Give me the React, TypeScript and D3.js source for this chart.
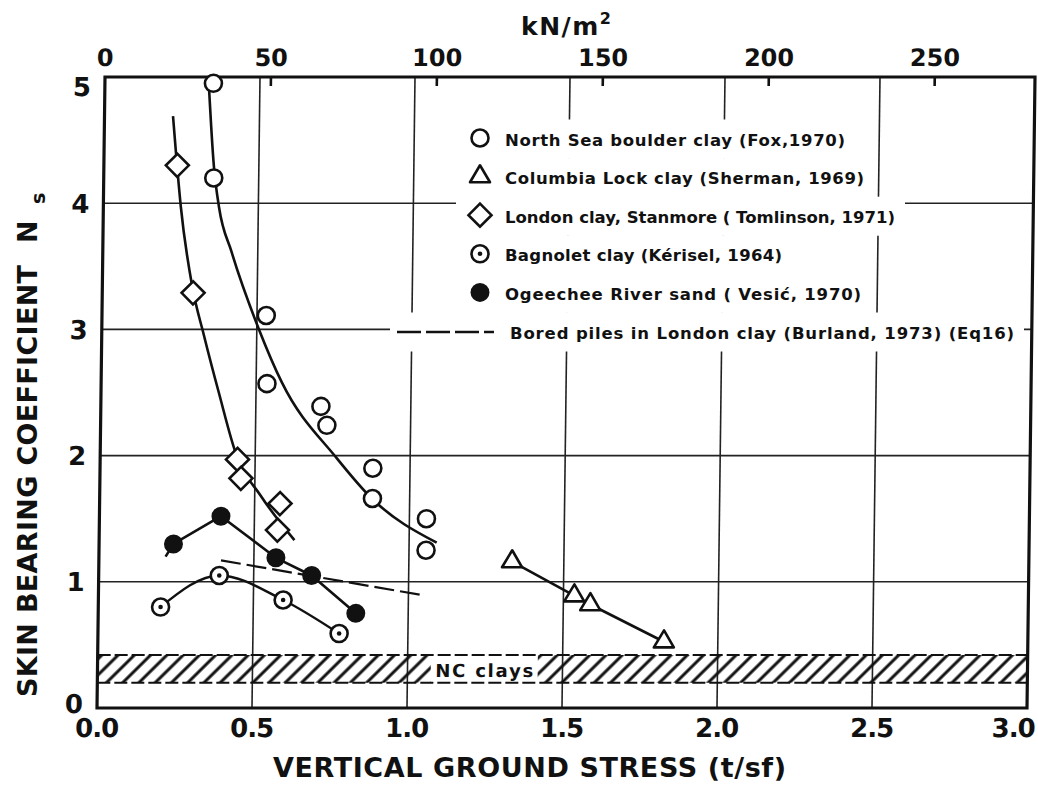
import React from 'react';
import * as d3 from 'd3';

type Pt = [number, number];

// vertical ground stress (t/sf) vs skin bearing coefficient Ns
const northSea: Pt[] = [
  [0.35, 4.95], [0.355, 4.2], [0.53, 3.11], [0.535, 2.57], [0.71, 2.39],
  [0.73, 2.24], [0.88, 1.9], [0.88, 1.66], [1.055, 1.5], [1.055, 1.25],
];
const northSeaCurve: Pt[] = [
  [0.335, 4.95], [0.355, 4.29], [0.373, 3.97], [0.416, 3.61], [0.507, 3.0],
  [0.583, 2.58], [0.763, 1.98], [0.878, 1.66], [1.089, 1.31],
];
const columbia: Pt[] = [[1.333, 1.16], [1.535, 0.89], [1.587, 0.82], [1.826, 0.525]];
const london: Pt[] = [
  [0.237, 4.3], [0.293, 3.29], [0.443, 1.97], [0.455, 1.82], [0.582, 1.62], [0.575, 1.41],
];
const londonCurve: Pt[] = [
  [0.221, 4.69], [0.232, 4.4], [0.25, 3.97], [0.29, 3.34], [0.33, 2.95],
  [0.38, 2.5], [0.44, 2.0], [0.52, 1.68], [0.63, 1.33],
];
const bagnolet: Pt[] = [[0.201, 0.8], [0.389, 1.05], [0.596, 0.856], [0.778, 0.59]];
const ogeechee: Pt[] = [[0.24, 1.3], [0.392, 1.52], [0.571, 1.19], [0.687, 1.05], [0.831, 0.75]];
const ogeecheeLine: Pt[] = [[0.215, 1.2], [0.24, 1.3], [0.392, 1.52], [0.571, 1.19], [0.687, 1.05], [0.831, 0.75]];
const boredPiles: Pt[] = [[0.394, 1.17], [1.044, 0.895]];
const ncBand = [0.2, 0.42];

const xTicks = [0, 0.5, 1.0, 1.5, 2.0, 2.5, 3.0];
const yTicks = [0, 1, 2, 3, 4, 5];
const knTicks = [0, 50, 100, 150, 200, 250];
const KN_PER_TSF = 93.4;

const legendRows = [
  { kind: 'circle', label: 'North Sea boulder clay (Fox,1970)', len: 340 },
  { kind: 'triangle', label: 'Columbia Lock clay (Sherman, 1969)', len: 359 },
  { kind: 'diamond', label: 'London clay, Stanmore ( Tomlinson, 1971)', len: 390 },
  { kind: 'dotted', label: 'Bagnolet clay (Kérisel, 1964)', len: 277 },
  { kind: 'filled', label: 'Ogeechee River sand ( Vesić, 1970)', len: 356 },
  { kind: 'dash', label: 'Bored piles in London clay (Burland, 1973) (Eq16)', len: 504 },
];

const INK = '#111';
const FONT = '"DejaVu Sans", sans-serif';

const Marker = ({ kind, cx, cy }: { kind: string; cx: number; cy: number }) => {
  const sw = 2.6;
  if (kind === 'circle') return <circle cx={cx} cy={cy} r={8.5} fill="#fff" stroke={INK} strokeWidth={sw} />;
  if (kind === 'filled') return <circle cx={cx} cy={cy} r={9.5} fill={INK} />;
  if (kind === 'dotted')
    return (
      <g>
        <circle cx={cx} cy={cy} r={8.5} fill="#fff" stroke={INK} strokeWidth={sw} />
        <circle cx={cx} cy={cy} r={2.3} fill={INK} />
      </g>
    );
  if (kind === 'diamond') {
    const s = 11.5;
    return <path d={`M${cx},${cy - s}L${cx + s},${cy}L${cx},${cy + s}L${cx - s},${cy}Z`} fill="#fff" stroke={INK} strokeWidth={sw} />;
  }
  if (kind === 'triangle') {
    const h = 17, w = 10;
    return (
      <path d={`M${cx},${cy - (2 * h) / 3}L${cx + w},${cy + h / 3}L${cx - w},${cy + h / 3}Z`}
        fill="#fff" stroke={INK} strokeWidth={sw} strokeLinejoin="round" />
    );
  }
  return null;
};

const App = () => {
  const W = 1038, H = 787;
  const x = d3.scaleLinear().domain([0, 3]).range([97, 1027]);
  const y = d3.scaleLinear().domain([0, 5]).range([708, 77]);
  const kn = d3.scaleLinear().domain([0, 3 * KN_PER_TSF]).range(x.range());

  // the scanned figure leans slightly: top edge sits ~8px right of the bottom edge
  const skewDeg = (Math.atan(8 / (y(0) - y(5))) * 180) / Math.PI;
  const skewT = `translate(0,${y(0)}) skewX(${-skewDeg}) translate(0,${-y(0)})`;

  const straight = d3.line<Pt>().x(d => x(d[0])).y(d => y(d[1]));
  const smooth = d3.line<Pt>().x(d => x(d[0])).y(d => y(d[1])).curve(d3.curveMonotoneX);

  const legX = 480, legText = 505, legY0 = 139, legStep = 38.6;

  return (
    <div style={{ position: 'absolute', left: 0, top: 0 }}>
      <svg width={W} height={H} style={{ display: 'block', background: '#fff' }}>
        <defs>
          <pattern id="hatch" patternUnits="userSpaceOnUse" width={11.5} height={11.5} patternTransform="rotate(45)">
            <line x1={5.75} y1={0} x2={5.75} y2={11.5} stroke={INK} strokeWidth={3} />
          </pattern>
        </defs>

        {/* grid */}
        <g transform={skewT}>
          {xTicks.slice(1, -1).map(t => (
            <line key={'gx' + t} x1={x(t)} x2={x(t)} y1={y(5)} y2={y(0)} stroke="#222" strokeWidth={1.6} />
          ))}
          {yTicks.slice(1, -1).map(t => (
            <line key={'gy' + t} x1={x(0)} x2={x(3)} y1={y(t)} y2={y(t)} stroke="#222" strokeWidth={1.6} />
          ))}
        </g>

        {/* legend with white backing that breaks the grid */}
        <g>
          {legendRows.map((r, i) => {
            const cy = legY0 + i * legStep;
            const start = r.kind === 'dash' ? 390 : legX - 24;
            const tx = r.kind === 'dash' ? 510 : legText;
            return <rect key={'m' + i} x={start} y={cy - 19.5} width={tx + r.len + 10 - start} height={39} fill="#fff" />;
          })}
          {legendRows.map((r, i) => {
            const cy = legY0 + i * legStep;
            const tx = r.kind === 'dash' ? 510 : legText;
            return (
              <g key={'l' + i}>
                {r.kind === 'dash' ? (
                  <line x1={397} x2={494} y1={cy} y2={cy} stroke={INK} strokeWidth={2.6} strokeDasharray="24 5" />
                ) : (
                  <Marker kind={r.kind} cx={legX} cy={cy - 1} />
                )}
                <text x={tx} y={cy + 6.5} fontFamily={FONT} fontWeight={700} fontSize={16.5} fill={INK}
                  textLength={r.len} lengthAdjust="spacing">{r.label}</text>
              </g>
            );
          })}
        </g>

        <g transform={skewT}>
          {/* NC clays band */}
          <rect x={x(0)} y={y(ncBand[1])} width={x(3) - x(0)} height={y(ncBand[0]) - y(ncBand[1])} fill="url(#hatch)" />
          <rect x={x(1.075)} y={y(ncBand[1])} width={x(1.42) - x(1.075)} height={y(ncBand[0]) - y(ncBand[1])} fill="#fff" />
          {ncBand.map(v => (
            <line key={'nc' + v} x1={x(0)} x2={x(3)} y1={y(v)} y2={y(v)} stroke={INK} strokeWidth={2.2} strokeDasharray="13 4" />
          ))}
          <text x={x(1.08) + 3} y={y(ncBand[0]) - 6} fontFamily={FONT} fontWeight={700} fontSize={18}
            fill={INK} textLength={98} lengthAdjust="spacing">NC clays</text>

          {/* frame */}
          <rect x={x(0)} y={y(5)} width={x(3) - x(0)} height={y(0) - y(5)} fill="none" stroke={INK} strokeWidth={3.2} />

          {/* top kN/m2 axis */}
          {knTicks.map(k => (
            <g key={'kn' + k}>
              {k > 0 && <line x1={kn(k)} x2={kn(k)} y1={y(5)} y2={y(5) + 9} stroke={INK} strokeWidth={2.6} />}
              <text x={kn(k)} y={y(5) - 11} textAnchor="middle" fontFamily={FONT} fontWeight={700} fontSize={24} fill={INK}>{k}</text>
            </g>
          ))}

          {/* bottom axis labels (the last one is pulled inside the page edge, as in the figure) */}
          {xTicks.map((t, i) => {
            const last = i === xTicks.length - 1;
            return (
              <text key={'xl' + t} x={last ? x(t) + 8 : x(t)} y={y(0) + 29} textAnchor={last ? 'end' : 'middle'}
                fontFamily={FONT} fontWeight={700} fontSize={26} fill={INK} letterSpacing={-1}>{t.toFixed(1)}</text>
            );
          })}
          {/* left axis labels */}
          {yTicks.map(t => (
            <text key={'yl' + t} x={x(0) - 14} y={y(t) + (t === 0 ? 5 : t === 5 ? 19 : 9.5)} textAnchor="end"
              fontFamily={FONT} fontWeight={700} fontSize={26} fill={INK}>{t}</text>
          ))}

          {/* fitted curves and connecting lines */}
          <path d={smooth(northSeaCurve) ?? ''} fill="none" stroke={INK} strokeWidth={2.6} />
          <path d={smooth(londonCurve) ?? ''} fill="none" stroke={INK} strokeWidth={2.6} />
          <path d={straight(ogeecheeLine) ?? ''} fill="none" stroke={INK} strokeWidth={2.6} strokeLinejoin="round" />
          <path d={smooth(bagnolet) ?? ''} fill="none" stroke={INK} strokeWidth={2.4} />
          <path d={straight(columbia) ?? ''} fill="none" stroke={INK} strokeWidth={2.6} />
          <path d={straight(boredPiles) ?? ''} fill="none" stroke={INK} strokeWidth={2.2} strokeDasharray="20 6" />

          {/* markers */}
          {northSea.map((d, i) => <Marker key={'ns' + i} kind="circle" cx={x(d[0])} cy={y(d[1])} />)}
          {london.map((d, i) => <Marker key={'lc' + i} kind="diamond" cx={x(d[0])} cy={y(d[1])} />)}
          {columbia.map((d, i) => <Marker key={'co' + i} kind="triangle" cx={x(d[0])} cy={y(d[1])} />)}
          {bagnolet.map((d, i) => <Marker key={'ba' + i} kind="dotted" cx={x(d[0])} cy={y(d[1])} />)}
          {ogeechee.map((d, i) => <Marker key={'og' + i} kind="filled" cx={x(d[0])} cy={y(d[1])} />)}
        </g>

        {/* axis titles */}
        <text x={521} y={35} fontFamily={FONT} fontWeight={700} fontSize={25} fill={INK} letterSpacing={1.5}>
          kN/m<tspan dy={-11} fontSize={16}>2</tspan>
        </text>
        <text x={273} y={777} fontFamily={FONT} fontWeight={700} fontSize={27} fill={INK}
          textLength={513} lengthAdjust="spacing">VERTICAL GROUND STRESS (t/sf)</text>
        <text transform="translate(37,697) rotate(-90)" fontFamily={FONT} fontWeight={700} fontSize={27} fill={INK}
          textLength={432} lengthAdjust="spacing">SKIN BEARING COEFFICIENT</text>
        <text transform="translate(37,243) rotate(-90)" fontFamily={FONT} fontWeight={700} fontSize={27} fill={INK}>N</text>
        <text transform="translate(45,204) rotate(-90)" fontFamily={FONT} fontWeight={700} fontSize={19} fill={INK}>s</text>
      </svg>
    </div>
  );
};

export default App;
